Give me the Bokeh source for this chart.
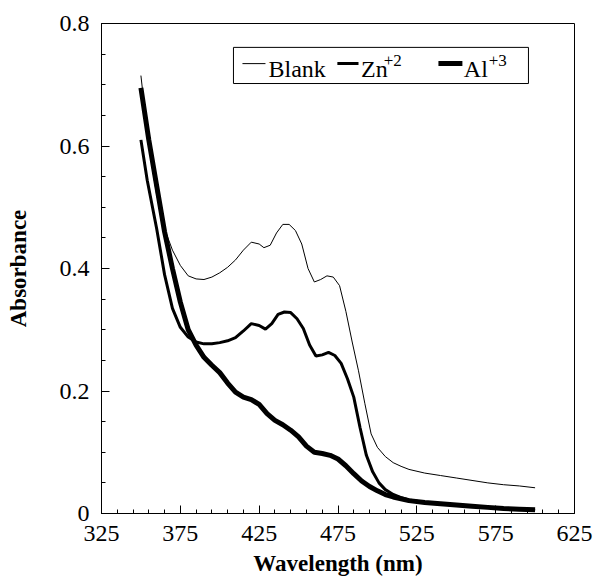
from bokeh.plotting import figure
from bokeh.models import FixedTicker, Range1d
from bokeh.core.properties import value
from bokeh.embed import file_html
from bokeh.resources import INLINE

# ---- data ----
blank_wl = [350, 355, 360, 365, 370, 375, 380, 385, 390, 395, 400, 405, 410, 415,
            420, 425, 428, 432, 436, 440, 444, 448, 452, 456, 460, 464, 468, 472,
            476, 480, 484, 488, 492, 496, 500, 505, 510, 515, 520, 530, 540, 550,
            560, 570, 580, 590, 600]
blank_abs = [0.715, 0.600, 0.520, 0.465, 0.430, 0.405, 0.388, 0.383, 0.382, 0.386,
             0.393, 0.402, 0.414, 0.430, 0.443, 0.440, 0.434, 0.438, 0.458, 0.472,
             0.472, 0.462, 0.440, 0.400, 0.378, 0.382, 0.388, 0.386, 0.372, 0.330,
             0.280, 0.233, 0.180, 0.130, 0.108, 0.093, 0.083, 0.077, 0.072, 0.066,
             0.062, 0.058, 0.054, 0.050, 0.047, 0.045, 0.042]

zn_wl = [350, 354, 360, 365, 370, 375, 380, 385, 390, 395, 400, 405, 410, 415, 420,
         425, 429, 433, 437, 441, 445, 449, 453, 457, 461, 465, 469, 473, 477, 481,
         485, 489, 493, 497, 501, 505, 510, 515, 520, 530, 540, 550, 560, 570, 580,
         590, 600]
zn_abs = [0.610, 0.544, 0.465, 0.390, 0.335, 0.304, 0.288, 0.280, 0.277, 0.277,
          0.279, 0.282, 0.287, 0.298, 0.310, 0.307, 0.301, 0.310, 0.325, 0.329,
          0.328, 0.318, 0.302, 0.275, 0.257, 0.259, 0.263, 0.258, 0.245, 0.220,
          0.190, 0.140, 0.095, 0.068, 0.050, 0.039, 0.031, 0.026, 0.022, 0.018,
          0.016, 0.014, 0.012, 0.010, 0.008, 0.007, 0.005]

al_wl = [350, 355, 360, 365, 370, 375, 380, 385, 390, 395, 400, 405, 410, 415, 420,
         425, 430, 435, 440, 445, 450, 455, 460, 465, 470, 475, 480, 485, 490, 495,
         500, 505, 510, 515, 520, 530, 540, 550, 560, 570, 580, 590, 600]
al_abs = [0.695, 0.610, 0.535, 0.460, 0.400, 0.345, 0.300, 0.275, 0.255, 0.242,
          0.230, 0.213, 0.198, 0.190, 0.186, 0.178, 0.163, 0.152, 0.145, 0.136,
          0.125, 0.110, 0.100, 0.098, 0.095, 0.089, 0.078, 0.065, 0.053, 0.044,
          0.037, 0.031, 0.027, 0.024, 0.021, 0.018, 0.016, 0.014, 0.012, 0.010,
          0.008, 0.007, 0.006]

x_ticks = [325, 375, 425, 475, 525, 575, 625]
x_minor = list(range(325, 626, 10))
y_ticks = [0, 0.2, 0.4, 0.6, 0.8]
y_tick_labels = ["0", "0.2", "0.4", "0.6", "0.8"]
y_minor = [0.05 * i for i in range(17)]

series_names = ["Blank", "Zn", "Al"]
series_sups = ["", "+2", "+3"]
series_widths = [1, 3, 5]

FONT = "'Liberation Serif', 'Times New Roman', serif"

p = figure(frame_width=473, frame_height=490, output_backend="svg",
           toolbar_location=None,
           x_range=Range1d(325, 625), y_range=Range1d(0, 0.8),
           min_border_left=101, min_border_right=19, min_border_top=23,
           min_border_bottom=69)
p.background_fill_color = "white"
p.border_fill_color = "white"
p.outline_line_color = "black"
p.outline_line_width = 1
p.grid.visible = False

p.line(blank_wl, blank_abs, line_color="black", line_width=series_widths[0])
p.line(zn_wl, zn_abs, line_color="black", line_width=series_widths[1])
p.line(al_wl, al_abs, line_color="black", line_width=series_widths[2])

# axes
p.xaxis.ticker = FixedTicker(ticks=x_ticks, minor_ticks=x_minor)
p.yaxis.ticker = FixedTicker(ticks=y_ticks, minor_ticks=y_minor)
p.yaxis.major_label_overrides = {t: l for t, l in zip(y_ticks, y_tick_labels)}
for ax in (p.xaxis, p.yaxis):
    ax.major_tick_in = 8
    ax.major_tick_out = 0
    ax.minor_tick_in = 4
    ax.minor_tick_out = 0
    ax.axis_line_color = "black"
    ax.major_tick_line_color = "black"
    ax.minor_tick_line_color = "black"
    ax.major_label_text_font = FONT
    ax.major_label_text_font_size = "24px"
    ax.major_label_text_color = "black"
    ax.axis_label_text_font = FONT
    ax.axis_label_text_font_size = "23px"
    ax.axis_label_text_font_style = "bold"
    ax.axis_label_text_color = "black"
p.xaxis.axis_label = "Wavelength (nm)"
p.yaxis.axis_label = "Absorbance"
p.xaxis.major_label_standoff = 12
p.xaxis.axis_label_standoff = 7
p.yaxis.major_label_standoff = 12
p.yaxis.axis_label_standoff = 26

# legend (custom, to allow superscripts)
leg_left, leg_right, leg_bottom, leg_top = 408.7, 595.8, 0.702, 0.761
p.quad(left=[leg_left], right=[leg_right], bottom=[leg_bottom], top=[leg_top],
       fill_color="white", line_color="black", line_width=1)
leg_line_x = [(414.4, 429.0), (474.6, 488.0), (538.7, 553.9)]
leg_text_x = [430.9, 489.6, 554.8]
leg_sup_x = [None, 504.0, 570.6]
leg_line_y = 0.7345
leg_text_y = 0.7265
leg_sup_y = 0.7396
for i in range(3):
    x0, x1 = leg_line_x[i]
    p.line([x0, x1], [leg_line_y, leg_line_y], line_color="black",
           line_width=series_widths[i])
    p.text(x=[leg_text_x[i]], y=[leg_text_y], text=[series_names[i]],
           text_font=value(FONT), text_font_size="24px", text_color="black",
           text_baseline="alphabetic", text_align="left")
    if series_sups[i]:
        p.text(x=[leg_sup_x[i]], y=[leg_sup_y], text=[series_sups[i]],
               text_font=value(FONT), text_font_size="17px", text_color="black",
               text_baseline="alphabetic", text_align="left")

open("out.html", "w").write(file_html(p, INLINE))
